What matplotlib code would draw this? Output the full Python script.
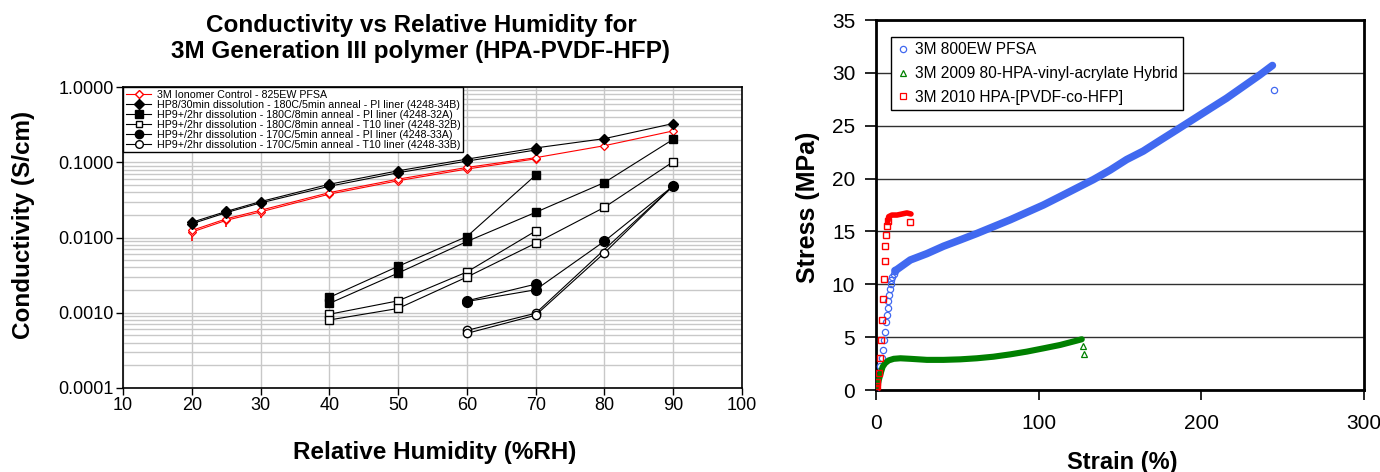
import matplotlib
matplotlib.use("Agg")
import matplotlib.pyplot as plt
from matplotlib import font_manager
from matplotlib.lines import Line2D
from matplotlib.ticker import LogLocator, NullFormatter, FixedLocator

plt.rcParams['font.family'] = ['Liberation Sans', 'DejaVu Sans']

# ---- left chart: conductivity vs RH ----
legend_labels = ["3M Ionomer Control - 825EW PFSA",
                 "HP8/30min dissolution - 180C/5min anneal - PI liner (4248-34B)",
                 "HP9+/2hr dissolution - 180C/8min anneal - PI liner (4248-32A)",
                 "HP9+/2hr dissolution - 180C/8min anneal - T10 liner (4248-32B)",
                 "HP9+/2hr dissolution - 170C/5min anneal - PI liner (4248-33A)",
                 "HP9+/2hr dissolution - 170C/5min anneal - T10 liner (4248-33B)"]

rh_control = [20, 25, 30, 40, 50, 60, 70, 80, 90]
sig_control_a = [0.0124, 0.0177, 0.0230, 0.0395, 0.0596, 0.0853, 0.115, 0.166, 0.261]
err_control_lo = [0.0033, 0.0040, 0.0047, 0.0049, 0.0, 0.0, 0.0, 0.0, 0.0]
rh_control_b = [20, 25, 30, 40, 50, 60, 70]
sig_control_b = [0.0118, 0.0169, 0.0219, 0.0377, 0.0568, 0.0812, 0.111]

rh_34b = [20, 25, 30, 40, 50, 60, 70, 80, 90]
sig_34b_a = [0.0159, 0.0222, 0.0300, 0.0510, 0.0770, 0.110, 0.155, 0.206, 0.327]
rh_34b_b = [20, 25, 30, 40, 50, 60, 70]
sig_34b_b = [0.0152, 0.0214, 0.0288, 0.0480, 0.0725, 0.1035, 0.1455]

rh_32a_a = [40, 50, 60, 70]
sig_32a_a = [0.00160, 0.00414, 0.0103, 0.0674]
rh_32a_b = [40, 50, 60, 70, 80, 90]
sig_32a_b = [0.00133, 0.00337, 0.00885, 0.0216, 0.0538, 0.202]

rh_32b_a = [40, 50, 60, 70]
sig_32b_a = [0.000955, 0.00144, 0.00348, 0.0122]
rh_32b_b = [40, 50, 60, 70, 80, 90]
sig_32b_b = [0.000802, 0.00114, 0.00298, 0.0084, 0.0252, 0.1016]

rh_33a_a = [60, 70]
sig_33a_a = [0.00144, 0.00240]
rh_33a_b = [60, 70, 80, 90]
sig_33a_b = [0.00141, 0.00202, 0.00893, 0.0485]

rh_33b_a = [60, 70, 90]
sig_33b_a = [0.000583, 0.000985, 0.0485]
rh_33b_b = [60, 70, 80, 90]
sig_33b_b = [0.000532, 0.000927, 0.00624, 0.0485]

rh_ticks = [10, 20, 30, 40, 50, 60, 70, 80, 90, 100]
cond_ticks = [0.0001, 0.001, 0.01, 0.1, 1.0]
cond_tick_labels = ['0.0001', '0.0010', '0.0100', '0.1000', '1.0000']

# ---- right chart: stress-strain ----
pfsa_rise_strain = [0.0, 0.7, 1.7, 2.7, 3.5, 4.2, 4.9, 5.4, 5.9, 6.5, 7.1, 7.6, 8.0, 8.5, 9.0, 9.5, 10.1, 10.8, 11.6]
pfsa_rise_stress = [0.15, 0.8, 1.6, 2.3, 3.0, 3.8, 4.7, 5.5, 6.4, 7.1, 7.8, 8.4, 9.0, 9.6, 10.0, 10.4, 10.7, 11.0, 11.3]
pfsa_strain = [11.6, 12.9, 21.1, 31.3, 41.5, 51.8, 61.9, 72.2, 82.5, 92.7, 102.9, 113.2, 123.4, 133.6, 143.9,
               154.1, 164.3, 174.5, 184.8, 195.0, 205.2, 215.5, 225.7, 235.9, 243.7]
pfsa_stress = [11.3, 11.4, 12.3, 12.9, 13.6, 14.2, 14.8, 15.45, 16.1, 16.8, 17.5, 18.3, 19.1, 19.9, 20.8,
               21.8, 22.6, 23.6, 24.6, 25.6, 26.6, 27.6, 28.7, 29.8, 30.7]
pfsa_break_strain = [244.8]
pfsa_break_stress = [28.4]

hybrid_strain = [0.5, 1.0, 2.0, 3.1, 4.1, 5.7, 7.8, 10.9, 15.0, 21.1, 31.3, 41.5, 51.8, 62.0, 72.2, 82.5,
                 92.7, 102.9, 113.2, 123.4, 126.5]
hybrid_stress = [0.1, 0.48, 1.1, 1.7, 2.2, 2.55, 2.8, 2.95, 3.0, 2.95, 2.85, 2.85, 2.9, 3.0, 3.15, 3.37,
                 3.63, 3.94, 4.26, 4.67, 4.8]
hybrid_break_strain = [127.3, 127.9]
hybrid_break_stress = [4.16, 3.45]

pvdf_rise_strain = [0.0, 0.2, 0.4, 0.9, 1.8, 2.5, 3.0, 3.6, 4.3, 5.0, 5.4, 5.8, 6.3, 6.7, 7.4]
pvdf_rise_stress = [0.05, 0.1, 0.35, 0.8, 1.6, 3.0, 4.7, 6.6, 8.6, 10.5, 12.2, 13.6, 14.7, 15.5, 16.0]
pvdf_strain = [7.4, 7.8, 9.8, 12.9, 16.0, 19.0, 21.5]
pvdf_stress = [16.0, 16.4, 16.55, 16.55, 16.65, 16.75, 16.65]
pvdf_break_strain = [21.1]
pvdf_break_stress = [15.9]

strain_ticks = [0, 100, 200, 300]
stress_ticks = [0, 5, 10, 15, 20, 25, 30, 35]

blue = '#4169f0'
green = '#008000'
red = '#ff0000'

fig = plt.figure(figsize=(13.8, 4.72), dpi=100)

# ========== left ==========
ax = fig.add_axes([123/1380, 84/472, 619/1380, 301/472])
ax.set_yscale('log')
ax.set_xlim(10, 100)
ax.set_ylim(0.0001, 1.0)

lw = 0.8
ax.errorbar(rh_control, sig_control_a, yerr=[err_control_lo, [0]*len(rh_control)], color=red, lw=lw,
            marker='D', ms=4.5, mfc='white', mec=red, mew=0.9, capsize=0, elinewidth=1.2, zorder=4)
ax.plot(rh_control_b, sig_control_b, color=red, lw=lw, marker='D', ms=4.5, mfc='white', mec=red, mew=0.9, zorder=4)

ax.plot(rh_34b, sig_34b_a, color='black', lw=lw, marker='D', ms=5.5, zorder=5)
ax.plot(rh_34b_b, sig_34b_b, color='black', lw=lw, marker='D', ms=5.5, zorder=5)
ax.plot(rh_32a_a, sig_32a_a, color='black', lw=lw, marker='s', ms=6, zorder=5)
ax.plot(rh_32a_b, sig_32a_b, color='black', lw=lw, marker='s', ms=6, zorder=5)
ax.plot(rh_32b_a, sig_32b_a, color='black', lw=lw, marker='s', ms=5.5, mfc='white', zorder=5)
ax.plot(rh_32b_b, sig_32b_b, color='black', lw=lw, marker='s', ms=5.5, mfc='white', zorder=5)
ax.plot(rh_33b_a, sig_33b_a, color='black', lw=lw, marker='o', ms=6, mfc='white', zorder=5)
ax.plot(rh_33b_b, sig_33b_b, color='black', lw=lw, marker='o', ms=6, mfc='white', zorder=5)
ax.plot(rh_33a_a, sig_33a_a, color='black', lw=lw, marker='o', ms=7, zorder=6)
ax.plot(rh_33a_b, sig_33a_b, color='black', lw=lw, marker='o', ms=7, zorder=6)

ax.yaxis.set_major_locator(FixedLocator(cond_ticks))
ax.yaxis.set_minor_locator(LogLocator(base=10, subs=range(2, 10)))
ax.yaxis.set_minor_formatter(NullFormatter())
ax.set_yticklabels(cond_tick_labels)
ax.set_xticks(rh_ticks)
ax.tick_params(axis='both', which='major', direction='out', length=5, width=1, labelsize=13, pad=1.5)
ax.tick_params(axis='y', which='minor', length=0)
ax.grid(True, which='both', axis='y', color='#c8c8c8', lw=1.0)
ax.grid(True, which='major', axis='x', color='#c8c8c8', lw=1.0)
ax.set_axisbelow(True)
for s in ax.spines.values():
    s.set_color('black')
    s.set_linewidth(1.2)

# legend font: narrow face if there is one
try:
    font_manager.findfont('Liberation Sans Narrow', fallback_to_default=False)
    leg_font = {'family': 'Liberation Sans Narrow', 'size': 9.3}
except ValueError:
    leg_font = {'family': 'Liberation Sans', 'size': 7.7}

handles = [
    Line2D([], [], color=red, lw=lw, marker='D', ms=4.5, mfc='white', mec=red),
    Line2D([], [], color='black', lw=lw, marker='D', ms=5),
    Line2D([], [], color='black', lw=lw, marker='s', ms=5.5),
    Line2D([], [], color='black', lw=lw, marker='s', ms=5, mfc='white'),
    Line2D([], [], color='black', lw=lw, marker='o', ms=6),
    Line2D([], [], color='black', lw=lw, marker='o', ms=5.5, mfc='white'),
]
leg = ax.legend(handles, legend_labels, loc='upper left', bbox_to_anchor=(0, 1), borderaxespad=0,
                prop=leg_font, frameon=True, fancybox=False, edgecolor='black', framealpha=1,
                handlelength=2.4, handletextpad=0.5, labelspacing=0.0, borderpad=0.25)
leg.get_frame().set_linewidth(1.0)

ax.set_ylabel('Conductivity (S/cm)', fontsize=17.5, fontweight='bold', va='center')
ax.yaxis.set_label_coords(-0.16, 0.541)
ax.set_xlabel('Relative Humidity (%RH)', fontsize=17.5, fontweight='bold', va='center')
ax.xaxis.set_label_coords(0.504, -0.213)

fig.text(421/1380, 1 - 38.5/472,
         'Conductivity vs Relative Humidity for\n3M Generation III polymer (HPA-PVDF-HFP)',
         ha='center', va='center', fontsize=17.5, fontweight='bold', linespacing=1.15)

# ========== right ==========
bx = fig.add_axes([876/1380, 82/472, 488/1380, 370/472])
bx.set_xlim(0, 300)
bx.set_ylim(0, 35)

# dense parts of the curves drawn as a thick band
bx.plot(pfsa_strain, pfsa_stress, color=blue, lw=5.4, solid_capstyle='round', zorder=3)
bx.plot(pfsa_rise_strain, pfsa_rise_stress, ls='none', marker='o', ms=4.5, mfc='none', mec=blue, mew=0.9, zorder=3)
bx.plot(pfsa_break_strain, pfsa_break_stress, ls='none', marker='o', ms=4.5, mfc='none', mec=blue, mew=0.9, zorder=3)

bx.plot(hybrid_strain, hybrid_stress, color=green, lw=4.4, solid_capstyle='round', zorder=3)
bx.plot(hybrid_break_strain, hybrid_break_stress, ls='none', marker='^', ms=4.5, mfc='none', mec=green, mew=0.9, zorder=3)

bx.plot(pvdf_strain, pvdf_stress, color=red, lw=4.0, solid_capstyle='round', zorder=4)
bx.plot(pvdf_rise_strain, pvdf_rise_stress, ls='none', marker='s', ms=5, mfc='none', mec=red, mew=1.0, zorder=4)
bx.plot(pvdf_break_strain, pvdf_break_stress, ls='none', marker='s', ms=5, mfc='none', mec=red, mew=1.0, zorder=4)

bx.set_xticks(strain_ticks)
bx.set_yticks(stress_ticks)
bx.tick_params(axis='y', direction='out', length=8, width=1.2, labelsize=15, pad=7)
bx.tick_params(axis='x', direction='out', length=7, width=1.2, labelsize=15, pad=10)
bx.grid(True, axis='y', color='#303030', lw=1.0)
bx.set_axisbelow(True)
for s in bx.spines.values():
    s.set_color('black')
    s.set_linewidth(2.0)

rhandles = [
    Line2D([], [], ls='none', marker='o', ms=4.5, mfc='none', mec=blue, mew=0.9),
    Line2D([], [], ls='none', marker='^', ms=4.5, mfc='none', mec=green, mew=0.9),
    Line2D([], [], ls='none', marker='s', ms=4.5, mfc='none', mec=red, mew=0.9),
]
rlabels = ['3M 800EW PFSA', '3M 2009 80-HPA-vinyl-acrylate Hybrid', '3M 2010 HPA-[PVDF-co-HFP]']
rleg = bx.legend(rhandles, rlabels, loc='upper left', bbox_to_anchor=(0.031, 0.954), borderaxespad=0,
                 fontsize=11.2, frameon=True, fancybox=False, edgecolor='black', framealpha=1,
                 handlelength=0.8, handletextpad=0.4, labelspacing=0.55, borderpad=0.35)
rleg.get_frame().set_linewidth(1.0)

bx.set_ylabel('Stress (MPa)', fontsize=18, fontweight='bold', va='center')
bx.yaxis.set_label_coords(-0.139, 0.495)
bx.set_xlabel('Strain (%)', fontsize=17, fontweight='bold', va='center')
bx.xaxis.set_label_coords(0.504, -0.197)

fig.savefig('out.png', dpi=100)
